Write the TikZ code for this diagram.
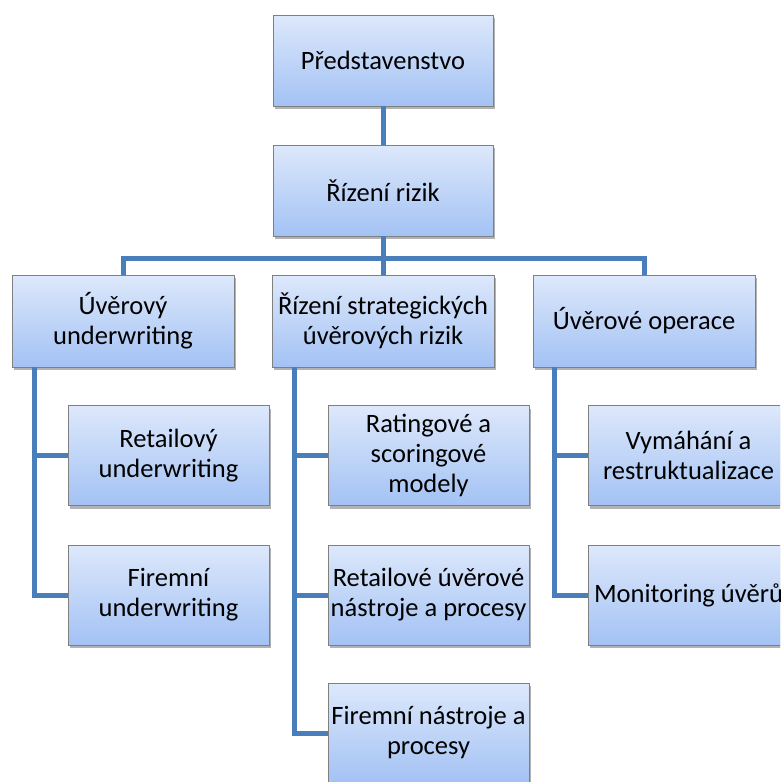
\documentclass[tikz,border=0pt]{standalone}
\usepackage{fontspec}
\setmainfont{Carlito}
\usetikzlibrary{shadows}
\definecolor{boxtop}{RGB}{221,232,251}
\definecolor{boxbot}{RGB}{163,194,244}
\definecolor{boxline}{RGB}{128,128,128}
\definecolor{connblue}{RGB}{74,126,187}

\begin{document}
\begin{tikzpicture}[
  x=1pt, y=-1pt, font=\fontsize{26.5}{30}\selectfont,
  box/.style={draw=boxline, line width=0.8pt, top color=boxtop, bottom color=boxbot,
    minimum width=220pt, minimum height=91pt, align=center, inner sep=1pt,
    drop shadow={shadow xshift=2pt, shadow yshift=-3pt, fill=black, opacity=0.3}},
  sub/.style={box, minimum width=201pt, minimum height=100pt},
  conn/.style={draw=connblue, line width=5pt}
]
  \clip (0,0) rectangle (780,782);
  \fill[white] (0,0) rectangle (780,782);

  \node[box] (board) at (383,60.5) {Představenstvo};
  \node[box] (risk)  at (383,190.5) {Řízení rizik};
  \coordinate (bus) at (383,258);
  \node[box, minimum width=222pt, minimum height=92pt] (uw)    at (123,321) {Úvěrový\\underwriting};
  \node[box, minimum width=222pt, minimum height=92pt] (strat) at (383,321) {Řízení strategických\\úvěrových rizik};
  \node[box, minimum width=222pt, minimum height=92pt] (ops)   at (644,321) {Úvěrové operace};

  \node[sub] (retuw) at (168.5,455.5) {Retailový\\underwriting};
  \node[sub] (firuw) at (168.5,595)   {Firemní\\underwriting};
  \node[sub] (rating) at (428.5,455.5) {Ratingové a\\scoringové\\modely};
  \node[sub] (retnp)  at (428.5,595)   {Retailové úvěrové\\nástroje a procesy};
  \node[sub] (firnp)  at (428.5,733)   {Firemní nástroje a\\procesy};
  \node[sub] (recov) at (688.5,455.5) {Vymáhání a\\restruktualizace};
  \node[sub] (monit) at (688.5,595)   {Monitoring úvěrů};

  % connectors
  \draw[conn] (board) -- (risk);
  \draw[conn] (risk) -- (bus);
  \draw[conn] (bus) -| (uw);
  \draw[conn] (bus) -- (strat);
  \draw[conn] (bus) -| (ops);
  \draw[conn] ([xshift=23pt]uw.south west) |- (retuw.west);
  \draw[conn] ([xshift=23pt]uw.south west) |- (firuw.west);
  \draw[conn] ([xshift=23pt]strat.south west) |- (rating.west);
  \draw[conn] ([xshift=23pt]strat.south west) |- (retnp.west);
  \draw[conn] ([xshift=23pt]strat.south west) |- (firnp.west);
  \draw[conn] ([xshift=22pt]ops.south west) |- (recov.west);
  \draw[conn] ([xshift=22pt]ops.south west) |- (monit.west);
\end{tikzpicture}
\end{document}
